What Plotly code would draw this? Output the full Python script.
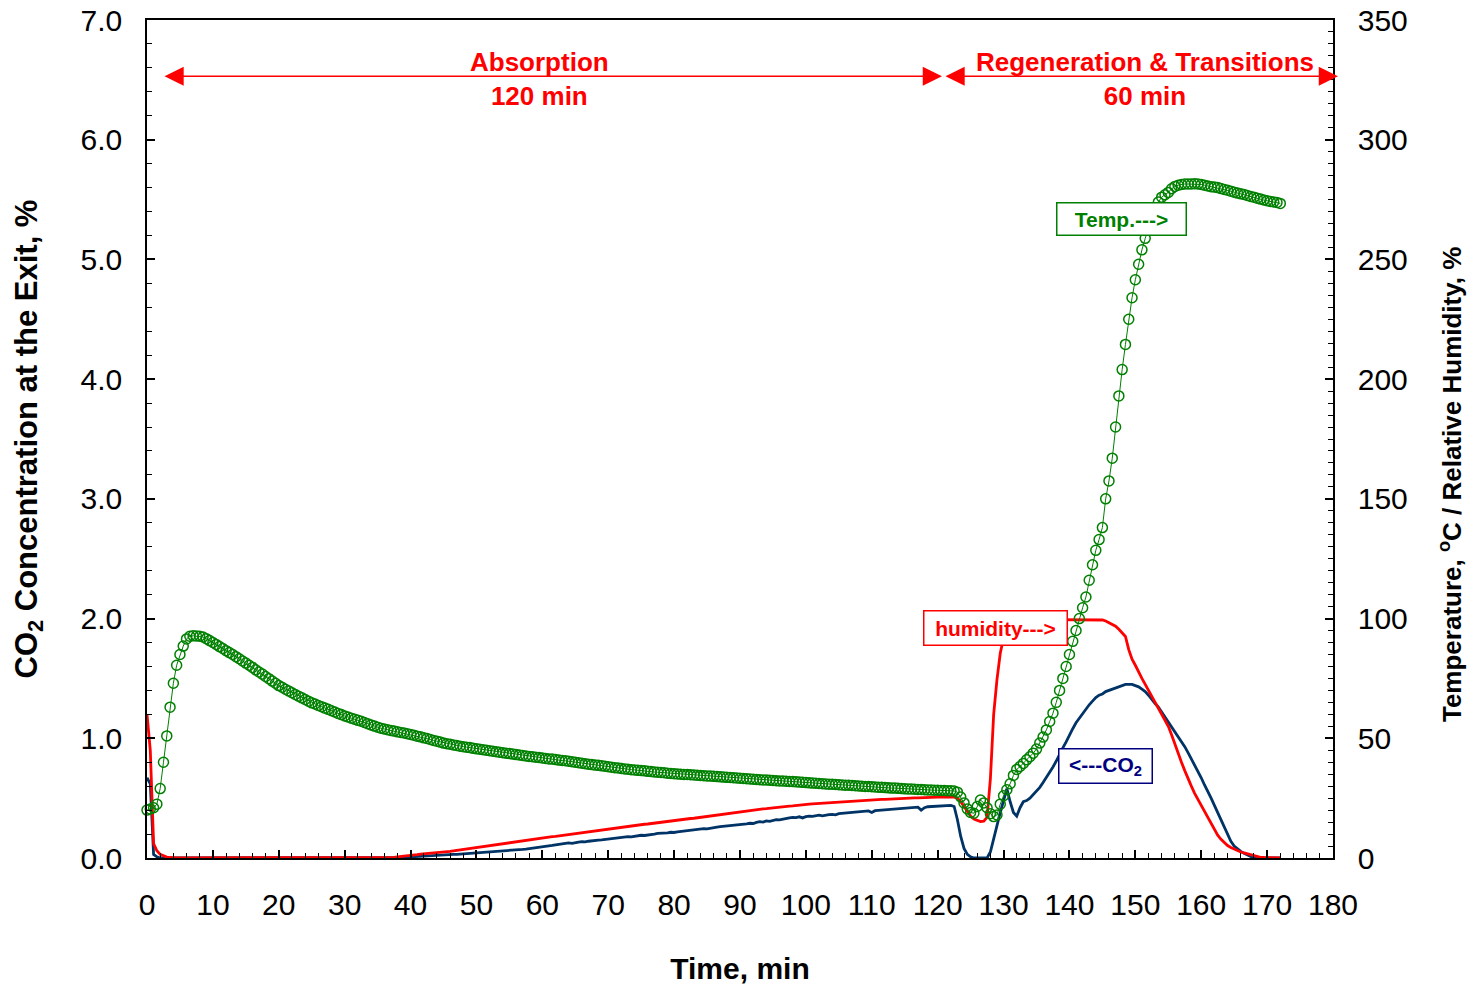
import numpy as np
import plotly.graph_objects as go

# ---------------- data (sampled every 0.5 min) ----------------
TIME_STEP_MIN = 0.5

temperature_c = [
    20.0, 20.5, 21.0, 22.5, 29.0, 40.0, 51.0, 63.0, 73.0, 80.5,
    85.0, 88.5, 91.5, 92.6, 92.8, 92.7, 92.6, 92.3, 91.6, 90.8,
    90.0, 89.2, 88.3, 87.5, 86.6, 85.8, 85.0, 84.1, 83.2, 82.3,
    81.4, 80.5, 79.6, 78.6, 77.7, 76.8, 75.8, 74.9, 73.9, 73.0,
    72.0, 71.3, 70.5, 69.8, 69.0, 68.3, 67.6, 66.9, 66.2, 65.5,
    64.8, 64.3, 63.7, 63.2, 62.6, 62.1, 61.5, 61.0, 60.4, 59.9,
    59.3, 58.9, 58.4, 58.0, 57.5, 57.1, 56.6, 56.1, 55.6, 55.1,
    54.6, 54.2, 53.9, 53.6, 53.3, 53.0, 52.7, 52.4, 52.2, 51.9,
    51.6, 51.3, 50.9, 50.6, 50.2, 49.9, 49.5, 49.1, 48.8, 48.4,
    48.0, 47.7, 47.5, 47.2, 47.0, 46.7, 46.5, 46.3, 46.1, 45.8,
    45.6, 45.4, 45.2, 45.0, 44.8, 44.6, 44.4, 44.2, 44.0, 43.8,
    43.6, 43.4, 43.2, 43.0, 42.8, 42.6, 42.4, 42.3, 42.1, 42.0,
    41.8, 41.6, 41.4, 41.3, 41.1, 40.9, 40.7, 40.6, 40.4, 40.2,
    40.0, 39.8, 39.6, 39.4, 39.2, 39.0, 38.8, 38.7, 38.5, 38.3,
    38.1, 37.9, 37.7, 37.6, 37.4, 37.2, 37.1, 36.9, 36.8, 36.6,
    36.5, 36.4, 36.2, 36.1, 35.9, 35.8, 35.7, 35.6, 35.4, 35.3,
    35.2, 35.1, 35.0, 34.9, 34.9, 34.8, 34.7, 34.6, 34.5, 34.4,
    34.3, 34.2, 34.1, 34.0, 33.9, 33.8, 33.7, 33.6, 33.5, 33.4,
    33.3, 33.2, 33.1, 33.0, 32.9, 32.8, 32.7, 32.6, 32.6, 32.5,
    32.4, 32.3, 32.2, 32.2, 32.1, 32.0, 31.9, 31.8, 31.7, 31.6,
    31.5, 31.4, 31.3, 31.2, 31.1, 31.0, 30.9, 30.8, 30.8, 30.7,
    30.6, 30.5, 30.4, 30.4, 30.3, 30.2, 30.1, 30.0, 29.9, 29.9,
    29.8, 29.7, 29.6, 29.5, 29.4, 29.3, 29.2, 29.2, 29.1, 29.0,
    28.9, 28.8, 28.8, 28.7, 28.6, 28.6, 28.5, 28.4, 28.4, 28.3,
    28.3, 28.2, 28.2, 28.1, 28.1, 28.0, 27.5, 25.5, 23.0, 20.5,
    19.0, 18.7, 21.5, 24.2, 23.0, 21.0, 18.5, 17.3, 18.0, 22.5,
    26.0, 28.5, 31.0, 34.5, 37.0, 38.2, 39.5, 41.0, 42.3, 43.8,
    45.5, 48.0, 50.5, 53.5, 57.0, 60.5, 65.0, 70.0, 75.0, 80.0,
    85.0, 90.5, 95.0, 100.0, 104.5, 109.0, 116.0, 122.5, 128.5, 133.0,
    138.0, 150.0, 157.5, 167.0, 180.0, 193.0, 204.0, 214.5, 225.0, 234.0,
    241.5, 248.0, 254.0, 258.8, 263.5, 267.5, 271.0, 274.0, 276.0, 277.0,
    278.0, 279.5, 280.5, 281.0, 281.3, 281.5, 281.5, 281.5, 281.6, 281.5,
    281.3, 281.0, 280.7, 280.4, 280.2, 280.0, 279.6, 279.2, 278.9, 278.5,
    278.1, 277.7, 277.4, 277.1, 276.7, 276.3, 276.0, 275.6, 275.2, 274.8,
    274.5, 274.2, 274.0, 273.8, 273.4,
]

co2_pct = [
    0.67, 0.62, 0.03, 0.01, 0.0, 0.0, 0.0, 0.0, 0.0, 0.0,
    0.0, 0.0, 0.0, 0.0, 0.0, 0.0, 0.0, 0.0, 0.0, 0.0,
    0.0, 0.0, 0.0, 0.0, 0.0, 0.0, 0.0, 0.0, 0.0, 0.0,
    0.0, 0.0, 0.0, 0.0, 0.0, 0.0, 0.0, 0.0, 0.0, 0.0,
    0.0, 0.0, 0.0, 0.0, 0.0, 0.0, 0.0, 0.0, 0.0, 0.0,
    0.0, 0.0, 0.0, 0.0, 0.0, 0.0, 0.0, 0.0, 0.0, 0.0,
    0.0, 0.0, 0.0, 0.0, 0.0, 0.0, 0.0, 0.0, 0.0, 0.0,
    0.0, 0.0, 0.0, 0.0, 0.0, 0.0, 0.002, 0.004, 0.006, 0.008,
    0.010, 0.012, 0.014, 0.016, 0.018, 0.020, 0.021, 0.022, 0.023, 0.024,
    0.025, 0.026, 0.028, 0.030, 0.031, 0.033, 0.034, 0.036, 0.037, 0.039,
    0.040, 0.041, 0.043, 0.045, 0.047, 0.050, 0.052, 0.054, 0.055, 0.057,
    0.058, 0.060, 0.064, 0.068, 0.072, 0.075, 0.078, 0.082, 0.086, 0.090,
    0.092, 0.095, 0.100, 0.105, 0.110, 0.117, 0.118, 0.122, 0.126, 0.123,
    0.130, 0.133, 0.136, 0.134, 0.140, 0.145, 0.147, 0.150, 0.152, 0.156,
    0.160, 0.158, 0.165, 0.168, 0.170, 0.175, 0.178, 0.176, 0.182, 0.186,
    0.190, 0.188, 0.194, 0.198, 0.200, 0.205, 0.206, 0.204, 0.210, 0.215,
    0.213, 0.218, 0.222, 0.225, 0.228, 0.232, 0.234, 0.238, 0.240, 0.245,
    0.243, 0.250, 0.255, 0.258, 0.262, 0.265, 0.267, 0.270, 0.268, 0.276,
    0.280, 0.278, 0.285, 0.290, 0.288, 0.298, 0.303, 0.300, 0.310, 0.306,
    0.315, 0.320, 0.318, 0.326, 0.330, 0.336, 0.340, 0.338, 0.344, 0.335,
    0.345, 0.350, 0.348, 0.355, 0.358, 0.352, 0.360, 0.362, 0.365, 0.360,
    0.370, 0.372, 0.375, 0.378, 0.380, 0.383, 0.387, 0.384, 0.390, 0.393,
    0.380, 0.395, 0.398, 0.400, 0.402, 0.405, 0.407, 0.410, 0.408, 0.415,
    0.418, 0.420, 0.416, 0.422, 0.425, 0.400, 0.420, 0.428, 0.430, 0.432,
    0.430, 0.435, 0.438, 0.436, 0.440, 0.430, 0.320, 0.180, 0.080, 0.030,
    0.010, 0.0, 0.0, 0.0, 0.0, 0.0, 0.050, 0.150, 0.270, 0.380,
    0.490, 0.580, 0.470, 0.380, 0.350, 0.420, 0.470, 0.480, 0.500, 0.530,
    0.560, 0.590, 0.630, 0.670, 0.710, 0.760, 0.810, 0.870, 0.920, 0.970,
    1.030, 1.080, 1.130, 1.170, 1.210, 1.250, 1.280, 1.310, 1.340, 1.360,
    1.370, 1.390, 1.400, 1.410, 1.420, 1.435, 1.440, 1.450, 1.450, 1.450,
    1.440, 1.430, 1.410, 1.390, 1.360, 1.320, 1.290, 1.260, 1.220, 1.170,
    1.130, 1.100, 1.060, 1.020, 0.980, 0.930, 0.880, 0.830, 0.780, 0.730,
    0.670, 0.610, 0.560, 0.500, 0.440, 0.380, 0.320, 0.250, 0.190, 0.140,
    0.100, 0.075, 0.055, 0.040, 0.025, 0.012, 0.004, 0.0, 0.0, 0.0,
    0.0, 0.0, 0.0, 0.0, 0.0,
]

humidity_pct = [
    60.0, 45.0, 6.0, 3.0, 1.5, 0.8, 0.4, 0.2, 0.0, 0.0,
    0.0, 0.0, 0.0, 0.0, 0.0, 0.0, 0.0, 0.0, 0.0, 0.0,
    0.0, 0.0, 0.0, 0.0, 0.0, 0.0, 0.0, 0.0, 0.0, 0.0,
    0.0, 0.0, 0.0, 0.0, 0.0, 0.0, 0.0, 0.0, 0.0, 0.0,
    0.0, 0.0, 0.0, 0.0, 0.0, 0.0, 0.0, 0.0, 0.0, 0.0,
    0.0, 0.0, 0.0, 0.0, 0.0, 0.0, 0.0, 0.0, 0.0, 0.0,
    0.0, 0.0, 0.0, 0.0, 0.0, 0.0, 0.0, 0.0, 0.0, 0.0,
    0.0, 0.0, 0.0, 0.1, 0.2, 0.3, 0.5, 0.6, 0.8, 0.9,
    1.1, 1.3, 1.4, 1.6, 1.7, 1.9, 2.0, 2.2, 2.3, 2.4,
    2.5, 2.6, 2.8, 3.0, 3.2, 3.4, 3.6, 3.8, 4.0, 4.2,
    4.4, 4.6, 4.8, 5.0, 5.2, 5.4, 5.6, 5.8, 6.0, 6.2,
    6.5, 6.8, 7.0, 7.1, 7.3, 7.5, 7.7, 7.9, 8.1, 8.3,
    8.5, 8.6, 8.7, 8.9, 9.0, 9.2, 9.4, 9.6, 9.8, 10.0,
    10.2, 10.4, 10.6, 10.8, 11.0, 11.2, 11.4, 11.6, 11.8, 12.0,
    12.2, 12.3, 12.5, 12.7, 12.8, 13.0, 13.2, 13.4, 13.5, 13.7,
    13.9, 14.1, 14.2, 14.4, 14.6, 14.8, 14.9, 15.1, 15.2, 15.4,
    15.6, 15.8, 15.9, 16.1, 16.3, 16.5, 16.6, 16.8, 17.0, 17.2,
    17.4, 17.5, 17.7, 17.9, 18.1, 18.3, 18.4, 18.6, 18.8, 19.0,
    19.2, 19.4, 19.6, 19.8, 19.9, 20.1, 20.3, 20.5, 20.6, 20.8,
    20.9, 21.1, 21.2, 21.4, 21.5, 21.7, 21.8, 22.0, 22.1, 22.3,
    22.4, 22.5, 22.6, 22.7, 22.8, 22.9, 23.0, 23.2, 23.3, 23.4,
    23.5, 23.6, 23.7, 23.8, 23.9, 24.0, 24.0, 24.1, 24.2, 24.3,
    24.3, 24.4, 24.4, 24.5, 24.5, 24.6, 24.6, 24.7, 24.8, 24.8,
    24.9, 25.0, 25.0, 25.1, 25.1, 25.2, 25.2, 25.3, 25.3, 25.3,
    25.4, 25.4, 25.4, 25.4, 25.4, 25.4, 25.0, 23.5, 21.5, 19.5,
    17.5, 16.3, 15.6, 15.2, 15.4, 17.0, 33.0, 60.0, 74.5, 85.5,
    92.0, 96.5, 98.5, 99.5, 99.7, 99.7, 99.7, 99.7, 99.7, 99.7,
    99.7, 99.7, 99.7, 99.7, 99.7, 99.7, 99.7, 99.7, 99.7, 99.7,
    99.7, 99.7, 99.7, 99.7, 99.7, 99.7, 99.7, 99.7, 99.7, 99.7,
    99.4, 99.0, 98.3, 97.5, 96.8, 95.5, 94.0, 92.5, 87.0, 83.0,
    80.5, 77.5, 75.0, 72.5, 70.0, 67.0, 64.5, 62.0, 60.0, 57.5,
    55.0, 51.5, 47.5, 43.5, 40.0, 36.5, 33.0, 30.0, 27.0, 24.5,
    22.0, 19.5, 17.0, 14.5, 12.0, 9.5, 7.8, 6.3, 5.2, 4.4,
    3.7, 3.0, 2.5, 2.1, 1.7, 1.3, 0.9, 0.5, 0.3, 0.2,
    0.1, 0.0, 0.0, 0.0, 0.0,
]

time_min = np.arange(len(temperature_c)) * TIME_STEP_MIN
assert len(co2_pct) == len(temperature_c) == len(humidity_pct)

FONT = "Arial, 'Liberation Sans', sans-serif"
RED = "#FF0000"
GREEN = "#008000"
NAVY_LINE = "#003366"
NAVY_TEXT = "#000080"

fig = go.Figure()
fig.add_trace(go.Scatter(x=time_min, y=co2_pct, mode="lines", name="CO2",
                         line=dict(color=NAVY_LINE, width=2.8), yaxis="y",
                         cliponaxis=False))
fig.add_trace(go.Scatter(x=time_min, y=humidity_pct, mode="lines", name="Humidity",
                         line=dict(color=RED, width=2.8), yaxis="y2",
                         cliponaxis=False))
fig.add_trace(go.Scatter(x=time_min, y=temperature_c, mode="lines+markers", name="Temp",
                         line=dict(color=GREEN, width=1),
                         marker=dict(symbol="circle-open", size=10, color=GREEN,
                                     line=dict(width=1.5, color=GREEN)),
                         yaxis="y2", cliponaxis=False))

tickfont = dict(family=FONT, size=30, color="black")
common = dict(showline=True, linecolor="black", linewidth=1.5, showgrid=False,
              zeroline=False, ticks="inside", tickcolor="black", tickwidth=1.5,
              ticklen=8, tickfont=tickfont, automargin=False)

fig.update_layout(
    width=1470, height=988,
    margin=dict(l=147, r=137, t=20, b=130, autoexpand=False),
    paper_bgcolor="white", plot_bgcolor="white",
    showlegend=False,
    font=dict(family=FONT),
    xaxis=dict(range=[0, 180], dtick=10, tick0=0, mirror=True,
               minor=dict(dtick=2, ticks="inside", ticklen=5, tickcolor="black", tickwidth=1),
               title=dict(text="<b>Time, min</b>", font=dict(family=FONT, size=30, color="black"),
                          standoff=38),
               ticklabelstandoff=19, **common),
    yaxis=dict(range=[0, 7], dtick=1, tick0=0, tickformat=".1f",
               minor=dict(dtick=0.2, ticks="inside", ticklen=5, tickcolor="black", tickwidth=1),
               title=dict(text="<b>CO<sub>2</sub> Concentration at the Exit, %</b>",
                          font=dict(family=FONT, size=31, color="black"), standoff=34),
               ticklabelstandoff=17, **common),
    yaxis2=dict(range=[0, 350], dtick=50, tick0=0, overlaying="y", side="right",
                minor=dict(dtick=5, ticks="inside", ticklen=5, tickcolor="black", tickwidth=1),
                ticklabelstandoff=17, **common),
)

ann_font = dict(family=FONT, size=26, color=RED)
arrow_y = 6.53
annotations = [
    # right-hand axis title
    dict(x=1.0987, y=0.4451, xref="paper", yref="paper", textangle=-90,
         text="<b>Temperature, <sup>o</sup>C / Relative Humidity, %</b>", showarrow=False,
         font=dict(family=FONT, size=26, color="black"), xanchor="center", yanchor="middle"),
    # double-headed arrows
    dict(x=120.65, y=arrow_y, ax=2.43, ay=arrow_y, xref="x", yref="y", axref="x", ayref="y",
         text="", showarrow=True, arrowhead=2, arrowside="end+start", arrowsize=2.4,
         arrowwidth=1.6, arrowcolor=RED, standoff=0, startstandoff=0),
    dict(x=180.75, y=arrow_y, ax=120.96, ay=arrow_y, xref="x", yref="y", axref="x", ayref="y",
         text="", showarrow=True, arrowhead=2, arrowside="end+start", arrowsize=2.4,
         arrowwidth=1.6, arrowcolor=RED, standoff=0, startstandoff=0),
    dict(x=59.6, y=6.51, xref="x", yref="y", text="<b>Absorption<br>120 min</b>",
         showarrow=False, font=ann_font, xanchor="center", yanchor="middle"),
    dict(x=151.46, y=6.51, xref="x", yref="y", text="<b>Regeneration & Transitions<br>60 min</b>",
         showarrow=False, font=ann_font, xanchor="center", yanchor="middle"),
    # labelled boxes
    dict(x=128.85, y=1.92, xref="x", yref="y", text="<b>humidity---></b>", showarrow=False,
         font=dict(family=FONT, size=21, color=RED), bgcolor="white", bordercolor=RED,
         borderwidth=1.5, borderpad=3, width=136, height=27),
    dict(x=147.97, y=5.338, xref="x", yref="y", text="<b>Temp.---></b>", showarrow=False,
         font=dict(family=FONT, size=21, color=GREEN), bgcolor="white", bordercolor=GREEN,
         borderwidth=1.5, borderpad=3, width=122, height=25),
    dict(x=145.4, y=0.769, xref="x", yref="y", text="<b><---CO<sub>2</sub></b>", showarrow=False,
         font=dict(family=FONT, size=21, color=NAVY_TEXT), bgcolor="white", bordercolor=NAVY_TEXT,
         borderwidth=1.5, borderpad=3, width=86, height=27),
]
fig.update_layout(annotations=annotations)

fig.write_html("out.html")
